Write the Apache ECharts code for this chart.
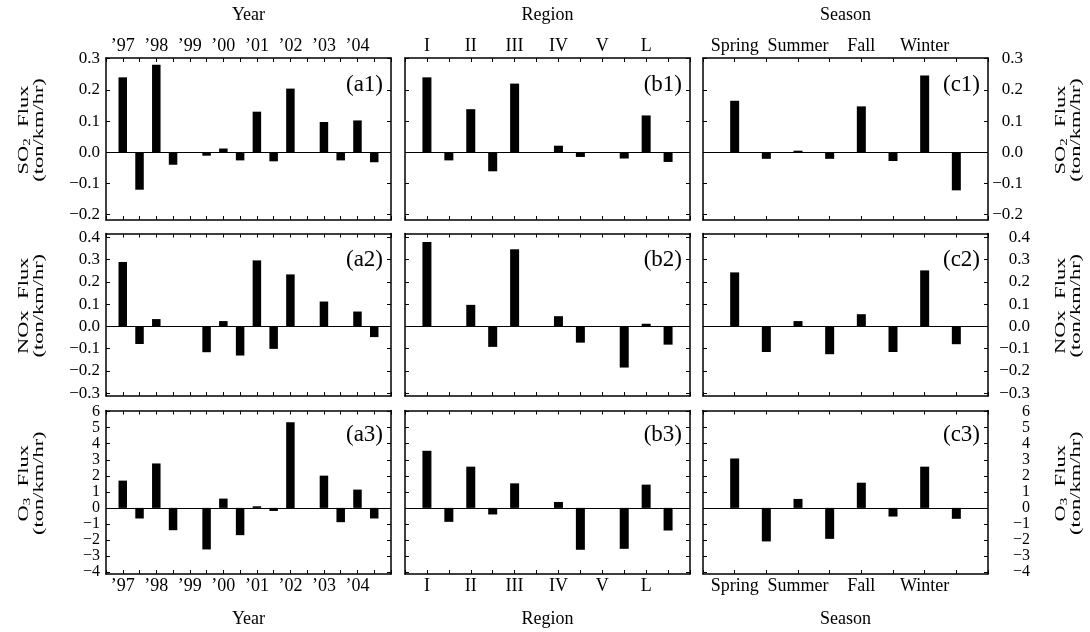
<!DOCTYPE html>
<html><head><meta charset="utf-8">
<script src="https://cdn.jsdelivr.net/npm/echarts@6/dist/echarts.min.js"></script>
<style>html,body{margin:0;padding:0;background:#fff}#c{width:1090px;height:632px}</style>
</head><body><div id="c"></div>
<script>
// Categories
const years = ['’97','’98','’99','’00','’01','’02','’03','’04'];
const regions = ['I','II','III','IV','V','L'];
const seasons = ['Spring','Summer','Fall','Winter'];

// SO2 flux (ton/km/hr)
const so2Year = [0.24, -0.12, 0.28, -0.04, 0, -0.011, 0.012, -0.026, 0.13, -0.029, 0.204, 0, 0.097, -0.026, 0.102, -0.032];
const so2Region = [0.24, -0.026, 0.138, -0.061, 0.22, 0, 0.021, -0.015, 0, -0.02, 0.118, -0.031];
const so2Season = [0.165, -0.021, 0.005, -0.021, 0.147, -0.028, 0.246, -0.122];
// NOx flux
const noxYear = [0.29, -0.079, 0.033, 0, 0, -0.116, 0.024, -0.131, 0.297, -0.101, 0.234, 0, 0.112, 0, 0.067, -0.048];
const noxRegion = [0.38, 0, 0.097, -0.092, 0.347, 0, 0.046, -0.073, 0, -0.185, 0.012, -0.082];
const noxSeason = [0.243, -0.115, 0.024, -0.125, 0.055, -0.115, 0.252, -0.08];
// O3 flux
const o3Year = [1.70, -0.66, 2.77, -1.39, 0, -2.59, 0.58, -1.70, 0.10, -0.19, 5.34, 0, 2.01, -0.89, 1.14, -0.66];
const o3Region = [3.56, -0.87, 2.57, -0.41, 1.53, 0, 0.37, -2.61, 0, -2.55, 1.45, -1.41];
const o3Season = [3.08, -2.09, 0.56, -1.93, 1.57, -0.54, 2.57, -0.68];

// Tick labels
const so2Ticks = [-0.2, -0.1, 0, 0.1, 0.2, 0.3];
const noxTicks = [-0.3, -0.2, -0.1, 0, 0.1, 0.2, 0.3, 0.4];
const o3Ticks = [-4, -3, -2, -1, 0, 1, 2, 3, 4, 5, 6];

const FONT = '"Liberation Serif","Times New Roman",serif';
const W = 285;
const cols = [
  {left: 106, cats: years, title: 'Year', key: 'a'},
  {left: 405, cats: regions, title: 'Region', key: 'b'},
  {left: 703, cats: seasons, title: 'Season', key: 'c'}
];
const rows = [
  {top: 58, height: 162, min: -0.217, max: 0.302, ticks: so2Ticks, dec: 1, sp: 'SO', sub: '2', rm: 35, ly: 27, fs: 17},
  {top: 233.5, height: 162.5, min: -0.313, max: 0.418, ticks: noxTicks, dec: 1, sp: 'NOx', sub: '', rm: 42, ly: 26, fs: 17},
  {top: 410.5, height: 163.5, min: -4.12, max: 6.07, ticks: o3Ticks, dec: 0, sp: 'O', sub: '3', rm: 42, ly: 24, fs: 16}
];
const data = [[so2Year, so2Region, so2Season], [noxYear, noxRegion, noxSeason], [o3Year, o3Region, o3Season]];

const line = {color: '#000', width: 1.5};
const tick = {show: true, inside: true, length: 4, lineStyle: {color: '#000', width: 1}};
const grids = [], xAxes = [], yAxes = [], series = [], graphics = [];

rows.forEach((row, r) => {
  cols.forEach((col, c) => {
    const gi = r * 3 + c;
    const vals = data[r][c];
    const n = vals.length;
    grids.push({left: col.left, top: row.top, width: W, height: row.height});
    const xl = (show) => ({
      show, color: '#000', fontFamily: FONT, fontSize: 18, margin: 3,
      formatter: v => (v % 2 === 1 && col.cats[(v - 1) / 2] !== undefined) ? col.cats[(v - 1) / 2] : ''
    });
    ['bottom', 'top'].forEach(pos => {
      xAxes.push({
        type: 'value', gridIndex: gi, position: pos, min: 0, max: n + 1, interval: 1,
        axisLine: {show: true, onZero: false, lineStyle: line},
        axisTick: tick, splitLine: {show: false},
        axisLabel: xl((pos === 'bottom' && r === 2) || (pos === 'top' && r === 0))
      });
    });
    const fmt = v => (v < -1e-9 ? '−' : '') + Math.abs(v).toFixed(row.dec);
    ['left', 'right'].forEach(pos => {
      const showL = (pos === 'left' && c === 0) || (pos === 'right' && c === 2);
      yAxes.push({
        type: 'value', gridIndex: gi, position: pos, min: row.min, max: row.max,
        axisLine: {show: true, onZero: false, lineStyle: line},
        axisTick: Object.assign({customValues: row.ticks}, tick),
        splitLine: {show: false},
        axisLabel: {
          show: showL, customValues: row.ticks, formatter: fmt, color: '#000',
          fontFamily: FONT, fontSize: row.fs,
          showMinLabel: true, showMaxLabel: true, hideOverlap: false,
          margin: pos === 'left' ? 6 : row.rm, align: 'right'
        }
      });
    });
    series.push({
      type: 'bar', xAxisIndex: gi * 2, yAxisIndex: gi * 2, barWidth: c === 0 ? 8.5 : 9,
      itemStyle: {color: '#000'}, silent: true, animation: false,
      data: vals.map((v, i) => [i + 1, v]),
      markLine: {
        silent: true, symbol: ['none', 'none'], animation: false,
        label: {show: false}, lineStyle: {color: '#000', width: 1, type: 'solid'},
        data: [{yAxis: 0}]
      }
    });
    graphics.push({
      type: 'text', x: col.left + W - 8, y: row.top + row.ly,
      style: {text: '(' + col.key + (r + 1) + ')', fill: '#000', font: '23px ' + FONT, align: 'right', verticalAlign: 'middle'}
    });
  });
  const cy = row.top + row.height / 2 - 9;
  const txt = '{n|' + row.sp + '}' + (row.sub ? '{s|' + row.sub + '}' : '') + '{n|  Flux}\n{n|(ton/km/hr)}';
  const rich = {
    n: {fontSize: 15, fontFamily: FONT, lineHeight: 15, fill: '#000'},
    s: {fontSize: 10, fontFamily: FONT, lineHeight: 7, verticalAlign: 'bottom', fill: '#000'}
  };
  [32, 1069].forEach(x => {
    graphics.push({
      type: 'text', x, y: cy, rotation: Math.PI / 2, scaleX: 1.5,
      style: {text: txt, rich, fill: '#000', font: '15px ' + FONT, align: 'center', verticalAlign: 'middle'}
    });
  });
});
cols.forEach(col => {
  [15, 619].forEach(y => {
    graphics.push({
      type: 'text', x: col.left + W / 2, y,
      style: {text: col.title, fill: '#000', font: '18px ' + FONT, align: 'center', verticalAlign: 'middle'}
    });
  });
});

const chart = echarts.init(document.getElementById('c'), null, {renderer: 'canvas'});
chart.setOption({
  animation: false,
  backgroundColor: '#fff',
  grid: grids, xAxis: xAxes, yAxis: yAxes, series,
  graphic: graphics
});
</script></body></html>
